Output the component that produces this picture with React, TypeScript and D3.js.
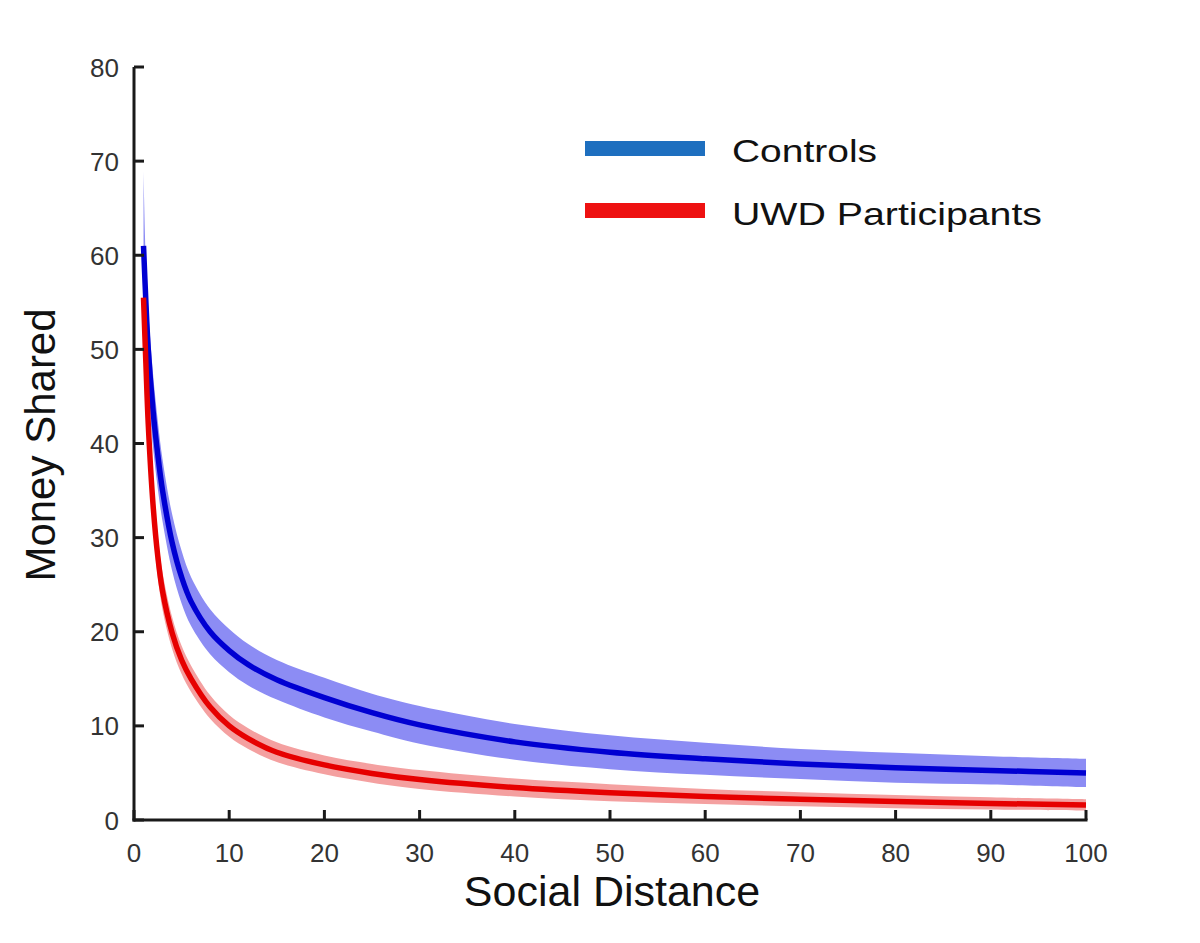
import React from 'react';
import * as d3 from 'd3';

// social distance levels sampled from the fitted curves
const distance = [1, 1.25, 1.5, 2, 2.5, 3, 4, 5, 6, 8, 10, 12, 15, 20, 25, 30, 40, 50, 60, 70, 80, 90, 100];

// Controls: mean money shared and half-width of the shaded band
const controlsMean = [61, 55, 50, 43.5, 38.8, 35, 29.5, 25.8, 23.2, 20.0, 18.0, 16.5, 14.9, 13.0, 11.4, 10.1, 8.3, 7.2, 6.5, 5.95, 5.55, 5.27, 5.0];
const controlsHalf = [8, 4.5, 4.2, 3.9, 3.6, 3.3, 3, 2.8, 2.6, 2.4, 2.3, 2.2, 2.1, 2.1, 2.0, 2.0, 1.9, 1.8, 1.7, 1.6, 1.6, 1.5, 1.5];

// UWD participants
const uwdMean = [55.5, 48.5, 42, 33.5, 28, 24.3, 19.9, 17.0, 15.0, 12.0, 10.0, 8.65, 7.2, 5.85, 4.95, 4.3, 3.45, 2.9, 2.5, 2.2, 1.96, 1.76, 1.6];
const uwdHalf = [6, 3.2, 3, 2.5, 2.2, 2, 1.7, 1.5, 1.4, 1.25, 1.15, 1.1, 1.05, 1.0, 1.0, 1.0, 0.95, 0.9, 0.8, 0.75, 0.7, 0.65, 0.6];

const xTicks = [0, 10, 20, 30, 40, 50, 60, 70, 80, 90, 100];
const yTicks = [0, 10, 20, 30, 40, 50, 60, 70, 80];

const legendLabels = ['Controls', 'UWD Participants'];

const W = 1200;
const H = 943;
const FONT = "'Liberation Sans', Arial, Helvetica, sans-serif";

interface Pt { x: number; m: number; h: number; }

export default function App() {
  const x = d3.scaleLinear().domain([0, 100]).range([134, 1086]);
  const y = d3.scaleLinear().domain([0, 80]).range([820, 67]);

  const toPts = (mean: number[], half: number[]): Pt[] =>
    distance.map((d, i) => ({ x: d, m: mean[i], h: half[i] }));

  const controls = toPts(controlsMean, controlsHalf);
  const uwd = toPts(uwdMean, uwdHalf);

  const smooth = d3.curveCatmullRom.alpha(0.5);

  const area = d3.area<Pt>()
    .x(d => x(d.x))
    .y0(d => y(d.m - d.h))
    .y1(d => y(d.m + d.h))
    .curve(smooth);

  const line = d3.line<Pt>()
    .x(d => x(d.x))
    .y(d => y(d.m))
    .curve(smooth);

  const tickLen = 10;
  const axisColor = '#1a1a1a';
  const labelColor = '#333333';

  return (
    <div style={{ position: 'absolute', left: 0, top: 0, background: '#fff' }}>
      <svg width={W} height={H} style={{ display: 'block' }}>
        <rect width={W} height={H} fill="#ffffff" />

        {/* confidence bands */}
        <path d={area(controls) ?? ''} fill="#8c8cf4" />
        <path d={area(uwd) ?? ''} fill="#f4a0a0" />

        {/* mean curves */}
        <path d={line(controls) ?? ''} fill="none" stroke="#0000d2" strokeWidth={5.5} />
        <path d={line(uwd) ?? ''} fill="none" stroke="#e60000" strokeWidth={5.5} />

        {/* axes */}
        <g stroke={axisColor} strokeWidth={3} fill="none">
          <line x1={x(0)} x2={x(0)} y1={y(80)} y2={y(0) + 1.5} />
          <line x1={x(0) - 1.5} x2={x(100) + 1.5} y1={y(0)} y2={y(0)} />
          {yTicks.map(t => (
            <line key={'yt' + t} x1={x(0)} x2={x(0) + tickLen} y1={y(t)} y2={y(t)} />
          ))}
          {xTicks.map(t => (
            <line key={'xt' + t} x1={x(t)} x2={x(t)} y1={y(0)} y2={y(0) - tickLen} />
          ))}
        </g>

        <g fontFamily={FONT} fontSize={26} fill={labelColor}>
          {yTicks.map(t => (
            <text key={'yl' + t} x={119} y={y(t) + 9.5} textAnchor="end">{t}</text>
          ))}
          {xTicks.map(t => (
            <text key={'xl' + t} x={x(t)} y={862} textAnchor="middle">{t}</text>
          ))}
        </g>

        {/* axis titles */}
        <text x={(x(0) + x(100)) / 2 + 2} y={906} textAnchor="middle"
          fontFamily={FONT} fontSize={43} fill="#111">Social Distance</text>
        <text transform={`translate(55, ${445}) rotate(-90)`} textAnchor="middle"
          fontFamily={FONT} fontSize={42} fill="#111">Money Shared</text>

        {/* legend */}
        <rect x={585} y={141} width={120} height={15} fill="#1e6fbf" />
        <rect x={585} y={203} width={120} height={15} fill="#ee1111" />
        <text x={732} y={162} fontFamily={FONT} fontSize={32} fill="#111"
          textLength={145} lengthAdjust="spacingAndGlyphs">{legendLabels[0]}</text>
        <text x={732} y={225} fontFamily={FONT} fontSize={32} fill="#111"
          textLength={310} lengthAdjust="spacingAndGlyphs">{legendLabels[1]}</text>
      </svg>
    </div>
  );
}
